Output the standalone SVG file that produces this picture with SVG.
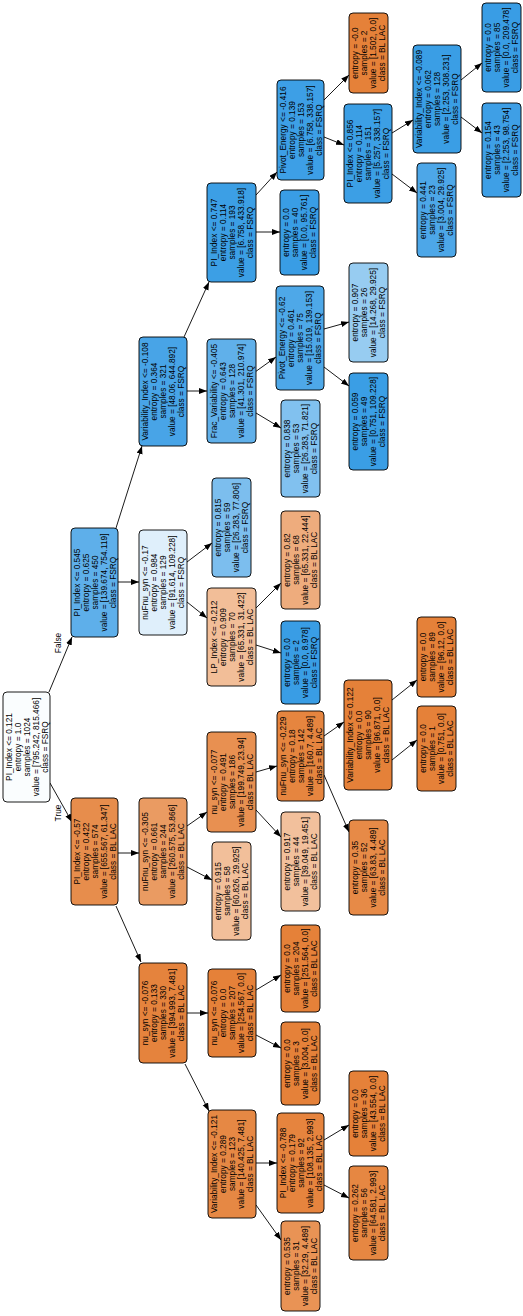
<svg xmlns="http://www.w3.org/2000/svg" width="523" height="1316" viewBox="0 0 523 1316">
<style>
rect.n{stroke:#000;stroke-width:0.9;}
text{font-family:"Liberation Sans",Arial,sans-serif;font-size:8.3px;text-anchor:middle;fill:#000;}
.e line{stroke:#000;stroke-width:0.9;marker-end:url(#ah);}
</style>
<defs>
<marker id="ah" markerUnits="userSpaceOnUse" markerWidth="9" markerHeight="7" refX="8" refY="3" orient="auto">
<path d="M0,0 L8,3 L0,6 z" fill="#000"/>
</marker>
</defs>
<rect width="523" height="1316" fill="#fff"/>
<g id="edges" class="e">
<line x1="49" y1="692" x2="72" y2="637"/>
<line x1="50" y1="783" x2="72" y2="822"/>
<line x1="118" y1="582" x2="139" y2="582"/>
<line x1="116" y1="528" x2="142" y2="446"/>
<line x1="187" y1="391" x2="207" y2="391"/>
<line x1="184" y1="337" x2="209" y2="282"/>
<line x1="256" y1="232" x2="280" y2="232"/>
<line x1="256" y1="195" x2="277" y2="172"/>
<line x1="324" y1="100" x2="349" y2="75"/>
<line x1="324" y1="137" x2="344" y2="145"/>
<line x1="392" y1="133" x2="413" y2="120"/>
<line x1="392" y1="174" x2="417" y2="193"/>
<line x1="461" y1="80" x2="482" y2="63"/>
<line x1="461" y1="117" x2="482" y2="133"/>
<line x1="255" y1="372" x2="276" y2="357"/>
<line x1="256" y1="413" x2="281" y2="428"/>
<line x1="324" y1="329" x2="349" y2="322"/>
<line x1="324" y1="367" x2="349" y2="386"/>
<line x1="187" y1="562" x2="212" y2="543"/>
<line x1="187" y1="602" x2="207" y2="618"/>
<line x1="256" y1="608" x2="281" y2="583"/>
<line x1="256" y1="645" x2="281" y2="653"/>
<line x1="118" y1="853" x2="139" y2="853"/>
<line x1="116" y1="906" x2="141" y2="962"/>
<line x1="187" y1="826" x2="207" y2="812"/>
<line x1="187" y1="867" x2="212" y2="880"/>
<line x1="256" y1="772" x2="277" y2="766"/>
<line x1="256" y1="810" x2="281" y2="837"/>
<line x1="324" y1="736" x2="344" y2="722"/>
<line x1="324" y1="775" x2="349" y2="832"/>
<line x1="392" y1="700" x2="417" y2="680"/>
<line x1="392" y1="760" x2="417" y2="740"/>
<line x1="187" y1="1013" x2="208" y2="1013"/>
<line x1="185" y1="1064" x2="209" y2="1111"/>
<line x1="256" y1="990" x2="281" y2="975"/>
<line x1="256" y1="1035" x2="281" y2="1048"/>
<line x1="256" y1="1163" x2="277" y2="1163"/>
<line x1="256" y1="1205" x2="281" y2="1240"/>
<line x1="324" y1="1140" x2="349" y2="1125"/>
<line x1="324" y1="1185" x2="349" y2="1198"/>
<text transform="translate(61,643) rotate(-90)">False</text>
<text transform="translate(61,813) rotate(-90)">True</text>
</g>
<g id="n0"><rect class="n" x="3" y="692" width="47" height="110" rx="4" fill="#fafdfe"/><text transform="translate(26.5,747) rotate(-90)"><tspan x="0" y="-15">PI_Index &lt;= 0.121</tspan><tspan x="0" y="-6">entropy = 1.0</tspan><tspan x="0" y="3">samples = 1024</tspan><tspan x="0" y="12">value = [795.242, 815.466]</tspan><tspan x="0" y="21">class = FSRQ</tspan></text></g>
<g id="n1"><rect class="n" x="71" y="528" width="47" height="109" rx="4" fill="#5eafea"/><text transform="translate(94.5,582.5) rotate(-90)"><tspan x="0" y="-15">PI_Index &lt;= 0.545</tspan><tspan x="0" y="-6">entropy = 0.625</tspan><tspan x="0" y="3">samples = 450</tspan><tspan x="0" y="12">value = [139.674, 754.119]</tspan><tspan x="0" y="21">class = FSRQ</tspan></text></g>
<g id="n3"><rect class="n" x="139" y="337" width="48" height="109" rx="4" fill="#48a4e7"/><text transform="translate(163,391.5) rotate(-90)"><tspan x="0" y="-15">Variability_Index &lt;= -0.108</tspan><tspan x="0" y="-6">entropy = 0.364</tspan><tspan x="0" y="3">samples = 321</tspan><tspan x="0" y="12">value = [48.06, 644.892]</tspan><tspan x="0" y="21">class = FSRQ</tspan></text></g>
<g id="n4"><rect class="n" x="207" y="183" width="49" height="99" rx="4" fill="#3c9fe5"/><text transform="translate(231.5,232.5) rotate(-90)"><tspan x="0" y="-15">PI_Index &lt;= 0.747</tspan><tspan x="0" y="-6">entropy = 0.114</tspan><tspan x="0" y="3">samples = 193</tspan><tspan x="0" y="12">value = [6.758, 433.918]</tspan><tspan x="0" y="21">class = FSRQ</tspan></text></g>
<g id="n5"><rect class="n" x="277" y="80" width="47" height="100" rx="4" fill="#3d9fe6"/><text transform="translate(300.5,130) rotate(-90)"><tspan x="0" y="-15">Pivot_Energy &lt;= -0.416</tspan><tspan x="0" y="-6">entropy = 0.139</tspan><tspan x="0" y="3">samples = 153</tspan><tspan x="0" y="12">value = [6.758, 338.157]</tspan><tspan x="0" y="21">class = FSRQ</tspan></text></g>
<g id="n6"><rect class="n" x="349" y="13" width="39" height="80" rx="4" fill="#e58139"/><text transform="translate(368.5,53) rotate(-90)"><tspan x="0" y="-10.5">entropy = -0.0</tspan><tspan x="0" y="-1.5">samples = 2</tspan><tspan x="0" y="7.5">value = [1.502, 0.0]</tspan><tspan x="0" y="16.5">class = BL LAC</tspan></text></g>
<g id="n7"><rect class="n" x="344" y="104" width="48" height="99" rx="4" fill="#3c9fe5"/><text transform="translate(368,153.5) rotate(-90)"><tspan x="0" y="-15">PI_Index &lt;= 0.856</tspan><tspan x="0" y="-6">entropy = 0.114</tspan><tspan x="0" y="3">samples = 151</tspan><tspan x="0" y="12">value = [5.257, 338.157]</tspan><tspan x="0" y="21">class = FSRQ</tspan></text></g>
<g id="n8"><rect class="n" x="413" y="45" width="48" height="108" rx="4" fill="#3a9ee5"/><text transform="translate(437,99) rotate(-90)"><tspan x="0" y="-15">Variability_Index &lt;= -0.089</tspan><tspan x="0" y="-6">entropy = 0.062</tspan><tspan x="0" y="3">samples = 128</tspan><tspan x="0" y="12">value = [2.253, 308.231]</tspan><tspan x="0" y="21">class = FSRQ</tspan></text></g>
<g id="n9"><rect class="n" x="482" y="3" width="39" height="89" rx="4" fill="#399de5"/><text transform="translate(501.5,47.5) rotate(-90)"><tspan x="0" y="-10.5">entropy = 0.0</tspan><tspan x="0" y="-1.5">samples = 85</tspan><tspan x="0" y="7.5">value = [0.0, 209.478]</tspan><tspan x="0" y="16.5">class = FSRQ</tspan></text></g>
<g id="n10"><rect class="n" x="482" y="103" width="39" height="94" rx="4" fill="#3e9fe6"/><text transform="translate(501.5,150) rotate(-90)"><tspan x="0" y="-10.5">entropy = 0.154</tspan><tspan x="0" y="-1.5">samples = 43</tspan><tspan x="0" y="7.5">value = [2.253, 98.754]</tspan><tspan x="0" y="16.5">class = FSRQ</tspan></text></g>
<g id="n11"><rect class="n" x="417" y="163" width="39" height="94" rx="4" fill="#4da7e8"/><text transform="translate(436.5,210) rotate(-90)"><tspan x="0" y="-10.5">entropy = 0.441</tspan><tspan x="0" y="-1.5">samples = 23</tspan><tspan x="0" y="7.5">value = [3.004, 29.925]</tspan><tspan x="0" y="16.5">class = FSRQ</tspan></text></g>
<g id="n12"><rect class="n" x="280" y="190" width="39" height="85" rx="4" fill="#399de5"/><text transform="translate(299.5,232.5) rotate(-90)"><tspan x="0" y="-10.5">entropy = 0.0</tspan><tspan x="0" y="-1.5">samples = 40</tspan><tspan x="0" y="7.5">value = [0.0, 95.761]</tspan><tspan x="0" y="16.5">class = FSRQ</tspan></text></g>
<g id="n13"><rect class="n" x="207" y="339" width="49" height="104" rx="4" fill="#60b0ea"/><text transform="translate(231.5,391) rotate(-90)"><tspan x="0" y="-15">Frac_Variability &lt;= -0.405</tspan><tspan x="0" y="-6">entropy = 0.643</tspan><tspan x="0" y="3">samples = 128</tspan><tspan x="0" y="12">value = [41.301, 210.974]</tspan><tspan x="0" y="21">class = FSRQ</tspan></text></g>
<g id="n14"><rect class="n" x="276" y="286" width="48" height="104" rx="4" fill="#4ea8e8"/><text transform="translate(300,338) rotate(-90)"><tspan x="0" y="-15">Pivot_Energy &lt;= -0.62</tspan><tspan x="0" y="-6">entropy = 0.461</tspan><tspan x="0" y="3">samples = 75</tspan><tspan x="0" y="12">value = [15.019, 139.153]</tspan><tspan x="0" y="21">class = FSRQ</tspan></text></g>
<g id="n15"><rect class="n" x="349" y="263" width="39" height="99" rx="4" fill="#97ccf1"/><text transform="translate(368.5,312.5) rotate(-90)"><tspan x="0" y="-10.5">entropy = 0.907</tspan><tspan x="0" y="-1.5">samples = 26</tspan><tspan x="0" y="7.5">value = [14.268, 29.925]</tspan><tspan x="0" y="16.5">class = FSRQ</tspan></text></g>
<g id="n16"><rect class="n" x="349" y="373" width="39" height="97" rx="4" fill="#3a9ee5"/><text transform="translate(368.5,421.5) rotate(-90)"><tspan x="0" y="-10.5">entropy = 0.059</tspan><tspan x="0" y="-1.5">samples = 49</tspan><tspan x="0" y="7.5">value = [0.751, 109.228]</tspan><tspan x="0" y="16.5">class = FSRQ</tspan></text></g>
<g id="n17"><rect class="n" x="281" y="400" width="39" height="97" rx="4" fill="#81c1ef"/><text transform="translate(300.5,448.5) rotate(-90)"><tspan x="0" y="-10.5">entropy = 0.838</tspan><tspan x="0" y="-1.5">samples = 53</tspan><tspan x="0" y="7.5">value = [26.283, 71.821]</tspan><tspan x="0" y="16.5">class = FSRQ</tspan></text></g>
<g id="n18"><rect class="n" x="139" y="530" width="48" height="105" rx="4" fill="#dfeffb"/><text transform="translate(163,582.5) rotate(-90)"><tspan x="0" y="-15">nuFnu_syn &lt;= -0.17</tspan><tspan x="0" y="-6">entropy = 0.984</tspan><tspan x="0" y="3">samples = 129</tspan><tspan x="0" y="12">value = [91.614, 109.228]</tspan><tspan x="0" y="21">class = FSRQ</tspan></text></g>
<g id="n19"><rect class="n" x="212" y="478" width="39" height="99" rx="4" fill="#7cbeee"/><text transform="translate(231.5,527.5) rotate(-90)"><tspan x="0" y="-10.5">entropy = 0.815</tspan><tspan x="0" y="-1.5">samples = 59</tspan><tspan x="0" y="7.5">value = [26.283, 77.806]</tspan><tspan x="0" y="16.5">class = FSRQ</tspan></text></g>
<g id="n20"><rect class="n" x="207" y="588" width="49" height="98" rx="4" fill="#f2be98"/><text transform="translate(231.5,637) rotate(-90)"><tspan x="0" y="-15">LP_Index &lt;= -0.212</tspan><tspan x="0" y="-6">entropy = 0.909</tspan><tspan x="0" y="3">samples = 70</tspan><tspan x="0" y="12">value = [65.331, 31.422]</tspan><tspan x="0" y="21">class = BL LAC</tspan></text></g>
<g id="n21"><rect class="n" x="281" y="511" width="39" height="98" rx="4" fill="#eeac7d"/><text transform="translate(300.5,560) rotate(-90)"><tspan x="0" y="-10.5">entropy = 0.82</tspan><tspan x="0" y="-1.5">samples = 68</tspan><tspan x="0" y="7.5">value = [65.331, 22.444]</tspan><tspan x="0" y="16.5">class = BL LAC</tspan></text></g>
<g id="n22"><rect class="n" x="281" y="621" width="39" height="83" rx="4" fill="#399de5"/><text transform="translate(300.5,662.5) rotate(-90)"><tspan x="0" y="-10.5">entropy = 0.0</tspan><tspan x="0" y="-1.5">samples = 2</tspan><tspan x="0" y="7.5">value = [0.0, 8.978]</tspan><tspan x="0" y="16.5">class = FSRQ</tspan></text></g>
<g id="n23"><rect class="n" x="71" y="798" width="47" height="107" rx="4" fill="#e78d4c"/><text transform="translate(94.5,851.5) rotate(-90)"><tspan x="0" y="-15">PI_Index &lt;= -0.57</tspan><tspan x="0" y="-6">entropy = 0.422</tspan><tspan x="0" y="3">samples = 574</tspan><tspan x="0" y="12">value = [655.567, 61.347]</tspan><tspan x="0" y="21">class = BL LAC</tspan></text></g>
<g id="n24"><rect class="n" x="139" y="798" width="48" height="107" rx="4" fill="#ea9b62"/><text transform="translate(163,851.5) rotate(-90)"><tspan x="0" y="-15">nuFnu_syn &lt;= -0.305</tspan><tspan x="0" y="-6">entropy = 0.661</tspan><tspan x="0" y="3">samples = 244</tspan><tspan x="0" y="12">value = [260.575, 53.866]</tspan><tspan x="0" y="21">class = BL LAC</tspan></text></g>
<g id="n25"><rect class="n" x="207" y="732" width="49" height="100" rx="4" fill="#e89051"/><text transform="translate(231.5,782) rotate(-90)"><tspan x="0" y="-15">nu_syn &lt;= -0.077</tspan><tspan x="0" y="-6">entropy = 0.491</tspan><tspan x="0" y="3">samples = 186</tspan><tspan x="0" y="12">value = [199.749, 23.94]</tspan><tspan x="0" y="21">class = BL LAC</tspan></text></g>
<g id="n26"><rect class="n" x="277" y="711" width="47" height="90" rx="4" fill="#e6853f"/><text transform="translate(300.5,756) rotate(-90)"><tspan x="0" y="-15">nuFnu_syn &lt;= -0.229</tspan><tspan x="0" y="-6">entropy = 0.18</tspan><tspan x="0" y="3">samples = 142</tspan><tspan x="0" y="12">value = [160.7, 4.489]</tspan><tspan x="0" y="21">class = BL LAC</tspan></text></g>
<g id="n27"><rect class="n" x="349" y="820" width="39" height="95" rx="4" fill="#e78a47"/><text transform="translate(368.5,867.5) rotate(-90)"><tspan x="0" y="-10.5">entropy = 0.35</tspan><tspan x="0" y="-1.5">samples = 52</tspan><tspan x="0" y="7.5">value = [63.83, 4.489]</tspan><tspan x="0" y="16.5">class = BL LAC</tspan></text></g>
<g id="n28"><rect class="n" x="344" y="680" width="48" height="110" rx="4" fill="#e58139"/><text transform="translate(368,735) rotate(-90)"><tspan x="0" y="-15">Variability_Index &lt;= 0.122</tspan><tspan x="0" y="-6">entropy = 0.0</tspan><tspan x="0" y="3">samples = 90</tspan><tspan x="0" y="12">value = [96.871, 0.0]</tspan><tspan x="0" y="21">class = BL LAC</tspan></text></g>
<g id="n29"><rect class="n" x="417" y="617" width="39" height="80" rx="4" fill="#e58139"/><text transform="translate(436.5,657) rotate(-90)"><tspan x="0" y="-10.5">entropy = 0.0</tspan><tspan x="0" y="-1.5">samples = 89</tspan><tspan x="0" y="7.5">value = [96.12, 0.0]</tspan><tspan x="0" y="16.5">class = BL LAC</tspan></text></g>
<g id="n30"><rect class="n" x="417" y="706" width="39" height="85" rx="4" fill="#e58139"/><text transform="translate(436.5,748.5) rotate(-90)"><tspan x="0" y="-10.5">entropy = 0.0</tspan><tspan x="0" y="-1.5">samples = 1</tspan><tspan x="0" y="7.5">value = [0.751, 0.0]</tspan><tspan x="0" y="16.5">class = BL LAC</tspan></text></g>
<g id="n31"><rect class="n" x="281" y="812" width="39" height="99" rx="4" fill="#f2c09c"/><text transform="translate(300.5,861.5) rotate(-90)"><tspan x="0" y="-10.5">entropy = 0.917</tspan><tspan x="0" y="-1.5">samples = 44</tspan><tspan x="0" y="7.5">value = [39.049, 19.451]</tspan><tspan x="0" y="16.5">class = BL LAC</tspan></text></g>
<g id="n32"><rect class="n" x="212" y="842" width="39" height="98" rx="4" fill="#f2bf9a"/><text transform="translate(231.5,891) rotate(-90)"><tspan x="0" y="-10.5">entropy = 0.915</tspan><tspan x="0" y="-1.5">samples = 58</tspan><tspan x="0" y="7.5">value = [60.826, 29.925]</tspan><tspan x="0" y="16.5">class = BL LAC</tspan></text></g>
<g id="n33"><rect class="n" x="139" y="963" width="48" height="100" rx="4" fill="#e5833d"/><text transform="translate(163,1013) rotate(-90)"><tspan x="0" y="-15">nu_syn &lt;= -0.076</tspan><tspan x="0" y="-6">entropy = 0.133</tspan><tspan x="0" y="3">samples = 330</tspan><tspan x="0" y="12">value = [394.993, 7.481]</tspan><tspan x="0" y="21">class = BL LAC</tspan></text></g>
<g id="n34"><rect class="n" x="208" y="969" width="48" height="88" rx="4" fill="#e58139"/><text transform="translate(232,1013) rotate(-90)"><tspan x="0" y="-15">nu_syn &lt;= -0.076</tspan><tspan x="0" y="-6">entropy = 0.0</tspan><tspan x="0" y="3">samples = 207</tspan><tspan x="0" y="12">value = [254.567, 0.0]</tspan><tspan x="0" y="21">class = BL LAC</tspan></text></g>
<g id="n36"><rect class="n" x="281" y="925" width="39" height="87" rx="4" fill="#e58139"/><text transform="translate(300.5,968.5) rotate(-90)"><tspan x="0" y="-10.5">entropy = 0.0</tspan><tspan x="0" y="-1.5">samples = 204</tspan><tspan x="0" y="7.5">value = [251.564, 0.0]</tspan><tspan x="0" y="16.5">class = BL LAC</tspan></text></g>
<g id="n35"><rect class="n" x="281" y="1022" width="39" height="83" rx="4" fill="#e58139"/><text transform="translate(300.5,1063.5) rotate(-90)"><tspan x="0" y="-10.5">entropy = 0.0</tspan><tspan x="0" y="-1.5">samples = 3</tspan><tspan x="0" y="7.5">value = [3.004, 0.0]</tspan><tspan x="0" y="16.5">class = BL LAC</tspan></text></g>
<g id="n37"><rect class="n" x="208" y="1110" width="48" height="108" rx="4" fill="#e68844"/><text transform="translate(232,1164) rotate(-90)"><tspan x="0" y="-15">Variability_Index &lt;= -0.121</tspan><tspan x="0" y="-6">entropy = 0.289</tspan><tspan x="0" y="3">samples = 123</tspan><tspan x="0" y="12">value = [140.425, 7.481]</tspan><tspan x="0" y="21">class = BL LAC</tspan></text></g>
<g id="n38"><rect class="n" x="277" y="1113" width="47" height="100" rx="4" fill="#e6843e"/><text transform="translate(300.5,1163) rotate(-90)"><tspan x="0" y="-15">PI_Index &lt;= -0.788</tspan><tspan x="0" y="-6">entropy = 0.179</tspan><tspan x="0" y="3">samples = 92</tspan><tspan x="0" y="12">value = [108.135, 2.993]</tspan><tspan x="0" y="21">class = BL LAC</tspan></text></g>
<g id="n39"><rect class="n" x="349" y="1071" width="39" height="85" rx="4" fill="#e58139"/><text transform="translate(368.5,1113.5) rotate(-90)"><tspan x="0" y="-10.5">entropy = 0.0</tspan><tspan x="0" y="-1.5">samples = 36</tspan><tspan x="0" y="7.5">value = [43.554, 0.0]</tspan><tspan x="0" y="16.5">class = BL LAC</tspan></text></g>
<g id="n40"><rect class="n" x="349" y="1166" width="39" height="94" rx="4" fill="#e68742"/><text transform="translate(368.5,1213) rotate(-90)"><tspan x="0" y="-10.5">entropy = 0.262</tspan><tspan x="0" y="-1.5">samples = 56</tspan><tspan x="0" y="7.5">value = [64.581, 2.993]</tspan><tspan x="0" y="16.5">class = BL LAC</tspan></text></g>
<g id="n41"><rect class="n" x="281" y="1221" width="39" height="90" rx="4" fill="#e99355"/><text transform="translate(300.5,1266) rotate(-90)"><tspan x="0" y="-10.5">entropy = 0.535</tspan><tspan x="0" y="-1.5">samples = 31</tspan><tspan x="0" y="7.5">value = [32.29, 4.489]</tspan><tspan x="0" y="16.5">class = BL LAC</tspan></text></g>
</svg>
